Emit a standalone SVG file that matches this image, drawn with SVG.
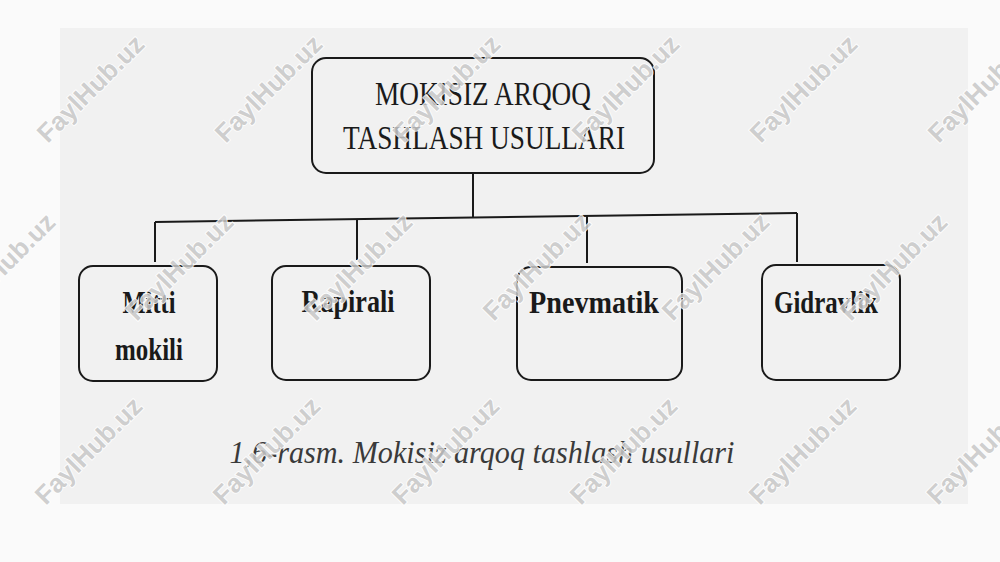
<svg xmlns="http://www.w3.org/2000/svg" width="1000" height="562" viewBox="0 0 1000 562">
  <style>
    .box { fill: none; stroke: #1a1a1a; stroke-width: 2; }
    .conn { stroke: #1a1a1a; stroke-width: 2; fill: none; }
    .title { font-family: "Liberation Serif", serif; font-size: 34px; fill: #1a1a1a; text-anchor: middle; }
    .lbl { font-family: "Liberation Serif", serif; font-weight: bold; font-size: 31px; fill: #1a1a1a; text-anchor: middle; }
    .cap { font-family: "Liberation Serif", serif; font-style: italic; font-size: 31px; fill: #3a3a3a; text-anchor: middle; }
    .wm { font-family: "Liberation Sans", sans-serif; font-weight: bold; font-size: 26px; fill: #c8c8c8; stroke: #ffffff; stroke-width: 2; paint-order: stroke; text-anchor: middle; dominant-baseline: middle; opacity: 0.85; }
  </style>
  <rect x="0" y="0" width="1000" height="562" fill="#fafafa"/>
  <rect x="60" y="28" width="908" height="476" fill="#f1f1f1"/>

  <g id="connectors">
    <line class="conn" x1="473" y1="173" x2="473" y2="218"/>
    <line class="conn" x1="155" y1="222" x2="797" y2="213"/>
    <line class="conn" x1="155" y1="222" x2="155" y2="262"/>
    <line class="conn" x1="357" y1="219" x2="357" y2="260"/>
    <line class="conn" x1="587" y1="216" x2="587" y2="263"/>
    <line class="conn" x1="797" y1="213" x2="797" y2="262"/>
  </g>

  <g id="root">
    <rect class="box" x="312" y="58" width="342" height="115" rx="14"/>
    <text class="title" x="483" y="105" textLength="216" lengthAdjust="spacingAndGlyphs">MOKISIZ ARQOQ</text>
    <text class="title" x="484" y="149" textLength="282" lengthAdjust="spacingAndGlyphs">TASHLASH USULLARI</text>
  </g>

  <g id="mitti">
    <rect class="box" x="79" y="266" width="138" height="115" rx="14"/>
    <text class="lbl" x="149" y="313" textLength="53" lengthAdjust="spacingAndGlyphs">Mitti</text>
    <text class="lbl" x="149" y="360" textLength="68" lengthAdjust="spacingAndGlyphs">mokili</text>
  </g>

  <g id="rapirali">
    <rect class="box" x="272" y="266" width="158" height="114" rx="14"/>
    <text class="lbl" x="348" y="312" textLength="93" lengthAdjust="spacingAndGlyphs">Rapirali</text>
  </g>

  <g id="pnevmatik">
    <rect class="box" x="517" y="267" width="165" height="113" rx="14"/>
    <text class="lbl" x="594" y="313" textLength="130" lengthAdjust="spacingAndGlyphs">Pnevmatik</text>
  </g>

  <g id="gidravlik">
    <rect class="box" x="762" y="265" width="138" height="115" rx="14"/>
    <text class="lbl" x="826" y="313" textLength="104" lengthAdjust="spacingAndGlyphs">Gidravlik</text>
  </g>

  <g id="caption">
    <text class="cap" x="482" y="463" textLength="505" lengthAdjust="spacingAndGlyphs">1,6-rasm. Mokisiz arqoq tashlash usullari</text>
  </g>

  <g id="watermarks">
    <text class="wm" x="92" y="90" transform="rotate(-45 92 90)">FaylHub.uz</text>
    <text class="wm" x="270" y="90" transform="rotate(-45 270 90)">FaylHub.uz</text>
    <text class="wm" x="448" y="90" transform="rotate(-45 448 90)">FaylHub.uz</text>
    <text class="wm" x="627" y="90" transform="rotate(-45 627 90)">FaylHub.uz</text>
    <text class="wm" x="805" y="90" transform="rotate(-45 805 90)">FaylHub.uz</text>
    <text class="wm" x="983" y="90" transform="rotate(-45 983 90)">FaylHub.uz</text>
    <text class="wm" x="3" y="268" transform="rotate(-45 3 268)">FaylHub.uz</text>
    <text class="wm" x="181" y="268" transform="rotate(-45 181 268)">FaylHub.uz</text>
    <text class="wm" x="360" y="268" transform="rotate(-45 360 268)">FaylHub.uz</text>
    <text class="wm" x="538" y="268" transform="rotate(-45 538 268)">FaylHub.uz</text>
    <text class="wm" x="717" y="268" transform="rotate(-45 717 268)">FaylHub.uz</text>
    <text class="wm" x="895" y="268" transform="rotate(-45 895 268)">FaylHub.uz</text>
    <text class="wm" x="90" y="452" transform="rotate(-45 90 452)">FaylHub.uz</text>
    <text class="wm" x="268" y="452" transform="rotate(-45 268 452)">FaylHub.uz</text>
    <text class="wm" x="447" y="452" transform="rotate(-45 447 452)">FaylHub.uz</text>
    <text class="wm" x="625" y="452" transform="rotate(-45 625 452)">FaylHub.uz</text>
    <text class="wm" x="804" y="452" transform="rotate(-45 804 452)">FaylHub.uz</text>
    <text class="wm" x="982" y="452" transform="rotate(-45 982 452)">FaylHub.uz</text>
  </g>
</svg>
